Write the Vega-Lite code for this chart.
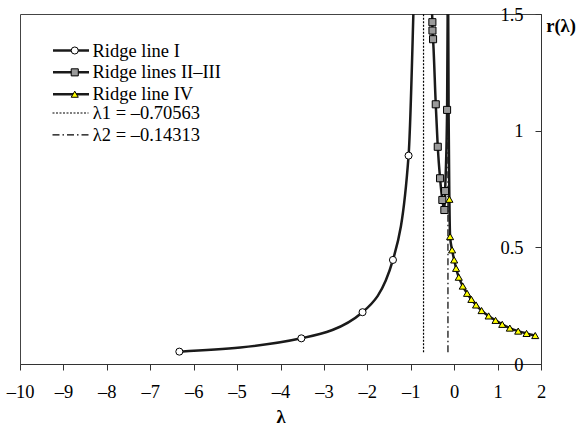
{
  "$schema": "https://vega.github.io/schema/vega-lite/v6.json",
  "width": 521,
  "height": 350,
  "autosize": {"type": "none"},
  "padding": {"left": 20, "top": 14, "right": 35, "bottom": 63},
  "background": "white",
  "config": {
    "font": "Liberation Serif, Times New Roman, DejaVu Serif, serif",
    "view": {"stroke": "#444", "strokeWidth": 1},
    "axis": {
      "grid": false,
      "domainColor": "#333",
      "tickColor": "#333",
      "labelColor": "black",
      "labelFont": "Liberation Serif, Times New Roman, DejaVu Serif, serif",
      "labelFontSize": 18.5,
      "labelFlush": false,
      "labelOverlap": false,
      "titleFont": "Liberation Serif, Times New Roman, DejaVu Serif, serif",
      "titleFontSize": 18.5,
      "titleFontWeight": "bold",
      "titleColor": "black"
    },
    "legend": {
      "labelFont": "Liberation Serif, Times New Roman, DejaVu Serif, serif",
      "labelFontSize": 18.5,
      "labelColor": "black"
    }
  },
  "datasets": {
    "ridge": [
      {"series": "Ridge line I", "marker": "I", "lambda": -6.33, "r": 0.053},
      {"series": "Ridge line I", "marker": "I", "lambda": -3.52, "r": 0.11},
      {"series": "Ridge line I", "marker": "I", "lambda": -2.11, "r": 0.222},
      {"series": "Ridge line I", "marker": "I", "lambda": -1.41, "r": 0.446},
      {"series": "Ridge line I", "marker": "I", "lambda": -1.05, "r": 0.893},
      {"series": "Ridge line I", "marker": null, "lambda": -0.94, "r": 1.5},
      {"series": "Ridge lines II–III", "marker": null, "lambda": -0.509, "r": 1.5},
      {"series": "Ridge lines II–III", "marker": "II–III", "lambda": -0.502, "r": 1.465},
      {"series": "Ridge lines II–III", "marker": "II–III", "lambda": -0.5, "r": 1.429},
      {"series": "Ridge lines II–III", "marker": "II–III", "lambda": -0.486, "r": 1.392},
      {"series": "Ridge lines II–III", "marker": "II–III", "lambda": -0.424, "r": 1.113},
      {"series": "Ridge lines II–III", "marker": "II–III", "lambda": -0.378, "r": 0.931},
      {"series": "Ridge lines II–III", "marker": "II–III", "lambda": -0.325, "r": 0.796},
      {"series": "Ridge lines II–III", "marker": "II–III", "lambda": -0.272, "r": 0.703},
      {"series": "Ridge lines II–III", "marker": "II–III", "lambda": -0.226, "r": 0.66},
      {"series": "Ridge lines II–III", "marker": "II–III", "lambda": -0.209, "r": 0.741},
      {"series": "Ridge lines II–III", "marker": "II–III", "lambda": -0.163, "r": 1.089},
      {"series": "Ridge lines II–III", "marker": null, "lambda": -0.15, "r": 1.5},
      {"series": "Ridge line IV", "marker": null, "lambda": -0.137, "r": 1.5},
      {"series": "Ridge line IV", "marker": null, "lambda": -0.127, "r": 1.05},
      {"series": "Ridge line IV", "marker": "IV", "lambda": -0.11, "r": 0.706},
      {"series": "Ridge line IV", "marker": "IV", "lambda": -0.094, "r": 0.546},
      {"series": "Ridge line IV", "marker": "IV", "lambda": -0.048, "r": 0.489},
      {"series": "Ridge line IV", "marker": "IV", "lambda": 0.0, "r": 0.446},
      {"series": "Ridge line IV", "marker": "IV", "lambda": 0.044, "r": 0.41},
      {"series": "Ridge line IV", "marker": "IV", "lambda": 0.106, "r": 0.372},
      {"series": "Ridge line IV", "marker": "IV", "lambda": 0.198, "r": 0.334},
      {"series": "Ridge line IV", "marker": "IV", "lambda": 0.297, "r": 0.303},
      {"series": "Ridge line IV", "marker": "IV", "lambda": 0.396, "r": 0.277},
      {"series": "Ridge line IV", "marker": "IV", "lambda": 0.504, "r": 0.253},
      {"series": "Ridge line IV", "marker": "IV", "lambda": 0.631, "r": 0.229},
      {"series": "Ridge line IV", "marker": "IV", "lambda": 0.794, "r": 0.206},
      {"series": "Ridge line IV", "marker": "IV", "lambda": 0.953, "r": 0.187},
      {"series": "Ridge line IV", "marker": "IV", "lambda": 1.107, "r": 0.17},
      {"series": "Ridge line IV", "marker": "IV", "lambda": 1.282, "r": 0.154},
      {"series": "Ridge line IV", "marker": "IV", "lambda": 1.475, "r": 0.141},
      {"series": "Ridge line IV", "marker": "IV", "lambda": 1.667, "r": 0.131},
      {"series": "Ridge line IV", "marker": "IV", "lambda": 1.867, "r": 0.122}
    ],
    "asymptotes": [
      {"lam": "λ1 = –0.70563", "lambda": -0.70563, "r0": 0.05, "r1": 1.5},
      {"lam": "λ2 = –0.14313", "lambda": -0.14313, "r0": 0.05, "r1": 1.5}
    ]
  },
  "encoding": {
    "x": {
      "field": "lambda",
      "type": "quantitative",
      "scale": {"domain": [-10, 2], "nice": false, "zero": false},
      "axis": {
        "orient": "bottom",
        "values": [-10, -9, -8, -7, -6, -5, -4, -3, -2, -1, 0, 1, 2],
        "tickSize": 6,
        "labelPadding": 12,
        "labelExpr": "replace(replace(datum.label, '−', '–'), '-', '–')",
        "title": "λ",
        "titlePadding": 7
      }
    },
    "y": {
      "field": "r",
      "type": "quantitative",
      "scale": {"domain": [0, 1.5], "nice": false},
      "axis": {
        "orient": "left",
        "offset": -521,
        "values": [0, 0.5, 1, 1.5],
        "tickSize": 6,
        "labelPadding": 12,
        "labelExpr": "datum.value + ''",
        "title": "r(λ)",
        "titleAngle": 0,
        "titleAlign": "center",
        "titleBaseline": "middle",
        "titleX": 19.5,
        "titleY": 11
      }
    }
  },
  "layer": [
    {
      "data": {"name": "asymptotes"},
      "mark": {"type": "rule", "color": "black", "strokeWidth": 1.2},
      "encoding": {
        "y": {"field": "r0", "type": "quantitative"},
        "y2": {"field": "r1"},
        "strokeDash": {
          "field": "lam",
          "type": "nominal",
          "scale": {
            "domain": ["λ1 = –0.70563", "λ2 = –0.14313"],
            "range": [[2, 1.5], [7, 3, 1.5, 3]]
          },
          "legend": {
            "orient": "none",
            "legendX": 31.5,
            "legendY": 90,
            "title": null,
            "padding": 0,
            "symbolType": "stroke",
            "symbolSize": 1296,
            "symbolStrokeWidth": 1.2,
            "symbolStrokeColor": "black",
            "clipHeight": 18,
            "rowPadding": 2.85,
            "labelOffset": 3.3
          }
        }
      }
    },
    {
      "data": {"name": "ridge"},
      "mark": {"type": "line", "interpolate": "monotone", "strokeWidth": 2.5, "clip": true},
      "encoding": {
        "stroke": {
          "field": "series",
          "type": "nominal",
          "scale": {
            "domain": ["Ridge line I", "Ridge lines II–III", "Ridge line IV"],
            "range": ["#1a1a1a", "#1a1a1a", "#1a1a1a"]
          },
          "legend": {
            "orient": "none",
            "legendX": 31.5,
            "legendY": 27.5,
            "title": null,
            "padding": 0,
            "symbolType": "stroke",
            "symbolSize": 1296,
            "symbolStrokeWidth": 2.5,
            "clipHeight": 18,
            "rowPadding": 2.85,
            "labelOffset": 2
          }
        }
      }
    },
    {
      "data": {"name": "ridge"},
      "transform": [{"filter": "datum.marker != null"}],
      "mark": {"type": "point", "filled": true, "stroke": "black", "strokeWidth": 1, "opacity": 1, "size": 50},
      "encoding": {
        "shape": {
          "field": "marker",
          "type": "nominal",
          "scale": {
            "domain": ["I", "II–III", "IV"],
            "range": ["circle", "square", "triangle-up"]
          },
          "legend": {
            "orient": "none",
            "legendX": 45.5,
            "legendY": 27.5,
            "title": null,
            "padding": 0,
            "symbolSize": 50,
            "symbolStrokeWidth": 1,
            "clipHeight": 18,
            "rowPadding": 2.85,
            "labelExpr": "''",
            "encode": {
              "symbols": {
                "stroke": {"value": "black"},
                "strokeWidth": {"value": 1},
                "strokeOpacity": {"value": 1}
              }
            }
          }
        },
        "fill": {
          "field": "marker",
          "type": "nominal",
          "scale": {
            "domain": ["I", "II–III", "IV"],
            "range": ["white", "#9a9a9a", "#ffff00"]
          },
          "legend": {
            "orient": "none",
            "legendX": 45.5,
            "legendY": 27.5,
            "title": null,
            "padding": 0,
            "symbolSize": 50,
            "symbolStrokeWidth": 1,
            "clipHeight": 18,
            "rowPadding": 2.85,
            "labelExpr": "''",
            "encode": {
              "symbols": {
                "stroke": {"value": "black"},
                "strokeWidth": {"value": 1},
                "strokeOpacity": {"value": 1}
              }
            }
          }
        }
      }
    }
  ]
}
